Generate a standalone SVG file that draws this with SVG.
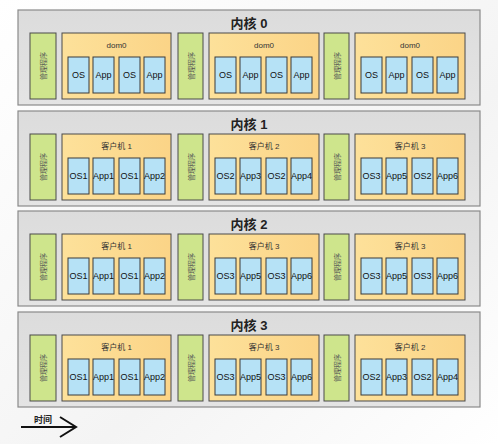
<svg xmlns="http://www.w3.org/2000/svg" width="498" height="444" viewBox="0 0 498 444">
<defs>
<linearGradient id="bg" x1="0" y1="0" x2="1" y2="1"><stop offset="0" stop-color="#ffffff"/><stop offset="0.6" stop-color="#f4f4f4"/><stop offset="1" stop-color="#ffffff"/></linearGradient>
<linearGradient id="coreg" x1="0" y1="0" x2="0" y2="1"><stop offset="0" stop-color="#dcdcdc"/><stop offset="1" stop-color="#e4e4e4"/></linearGradient>
<linearGradient id="guestg" x1="0" y1="0" x2="1" y2="0"><stop offset="0" stop-color="#fde19a"/><stop offset="1" stop-color="#fbd487"/></linearGradient>
<style>
.core{fill:url(#coreg);stroke:#8a8a8a;stroke-width:1.2}
.mgr{fill:#cee58c;stroke:#4a4a4a;stroke-width:1}
.guest{fill:url(#guestg);stroke:#4a4a4a;stroke-width:1}
.vm{fill:#b6e2f6;stroke:#3a3a3a;stroke-width:1}
text{font-family:"Liberation Sans","Noto Sans CJK SC",sans-serif;text-anchor:middle}
.title{font-size:13px;font-weight:bold;fill:#222}
.glab{font-size:8px;fill:#333}
.vt{font-size:9px;fill:#111}
.mt{font-size:7px;fill:#555}
</style>
</defs>
<rect width="498" height="444" fill="url(#bg)"/>

<g id="core0">
<rect class="core" x="18" y="10" width="462" height="95"/>
<text class="title" x="249" y="28">内核 0</text>
<g id="c0m1"><rect class="mgr" x="30" y="33" width="26" height="66"/><text class="mt" transform="translate(46,66) rotate(-90)">管理程序</text></g>
<g id="c0g1"><rect class="guest" x="62" y="33" width="109" height="66"/><text class="glab" x="116.5" y="48">dom0</text>
<rect class="vm" x="68" y="57" width="21" height="36"/><text class="vt" x="78.5" y="78">OS</text>
<rect class="vm" x="93" y="57" width="21" height="36"/><text class="vt" x="103.5" y="78">App</text>
<rect class="vm" x="119" y="57" width="21" height="36"/><text class="vt" x="129.5" y="78">OS</text>
<rect class="vm" x="144" y="57" width="21" height="36"/><text class="vt" x="154.5" y="78">App</text></g>
<g id="c0m2"><rect class="mgr" x="178" y="33" width="25" height="66"/><text class="mt" transform="translate(193.5,66) rotate(-90)">管理程序</text></g>
<g id="c0g2"><rect class="guest" x="209" y="33" width="110" height="66"/><text class="glab" x="264" y="48">dom0</text>
<rect class="vm" x="215" y="57" width="21" height="36"/><text class="vt" x="225.5" y="78">OS</text>
<rect class="vm" x="240" y="57" width="21" height="36"/><text class="vt" x="250.5" y="78">App</text>
<rect class="vm" x="266" y="57" width="21" height="36"/><text class="vt" x="276.5" y="78">OS</text>
<rect class="vm" x="291" y="57" width="21" height="36"/><text class="vt" x="301.5" y="78">App</text></g>
<g id="c0m3"><rect class="mgr" x="324" y="33" width="25" height="66"/><text class="mt" transform="translate(339.5,66) rotate(-90)">管理程序</text></g>
<g id="c0g3"><rect class="guest" x="355" y="33" width="110" height="66"/><text class="glab" x="410" y="48">dom0</text>
<rect class="vm" x="361" y="57" width="21" height="36"/><text class="vt" x="371.5" y="78">OS</text>
<rect class="vm" x="386" y="57" width="21" height="36"/><text class="vt" x="396.5" y="78">App</text>
<rect class="vm" x="412" y="57" width="21" height="36"/><text class="vt" x="422.5" y="78">OS</text>
<rect class="vm" x="437" y="57" width="21" height="36"/><text class="vt" x="447.5" y="78">App</text></g>
</g>

<g id="core1" transform="translate(0,101)">
<rect class="core" x="18" y="10" width="462" height="95"/>
<text class="title" x="249" y="28">内核 1</text>
<g id="c1m1"><rect class="mgr" x="30" y="33" width="26" height="66"/><text class="mt" transform="translate(46,66) rotate(-90)">管理程序</text></g>
<g id="c1g1"><rect class="guest" x="62" y="33" width="109" height="66"/><text class="glab" x="116.5" y="48">客户机 1</text>
<rect class="vm" x="68" y="57" width="21" height="36"/><text class="vt" x="78.5" y="78">OS1</text>
<rect class="vm" x="93" y="57" width="21" height="36"/><text class="vt" x="103.5" y="78">App1</text>
<rect class="vm" x="119" y="57" width="21" height="36"/><text class="vt" x="129.5" y="78">OS1</text>
<rect class="vm" x="144" y="57" width="21" height="36"/><text class="vt" x="154.5" y="78">App2</text></g>
<g id="c1m2"><rect class="mgr" x="178" y="33" width="25" height="66"/><text class="mt" transform="translate(193.5,66) rotate(-90)">管理程序</text></g>
<g id="c1g2"><rect class="guest" x="209" y="33" width="110" height="66"/><text class="glab" x="264" y="48">客户机 2</text>
<rect class="vm" x="215" y="57" width="21" height="36"/><text class="vt" x="225.5" y="78">OS2</text>
<rect class="vm" x="240" y="57" width="21" height="36"/><text class="vt" x="250.5" y="78">App3</text>
<rect class="vm" x="266" y="57" width="21" height="36"/><text class="vt" x="276.5" y="78">OS2</text>
<rect class="vm" x="291" y="57" width="21" height="36"/><text class="vt" x="301.5" y="78">App4</text></g>
<g id="c1m3"><rect class="mgr" x="324" y="33" width="25" height="66"/><text class="mt" transform="translate(339.5,66) rotate(-90)">管理程序</text></g>
<g id="c1g3"><rect class="guest" x="355" y="33" width="110" height="66"/><text class="glab" x="410" y="48">客户机 3</text>
<rect class="vm" x="361" y="57" width="21" height="36"/><text class="vt" x="371.5" y="78">OS3</text>
<rect class="vm" x="386" y="57" width="21" height="36"/><text class="vt" x="396.5" y="78">App5</text>
<rect class="vm" x="412" y="57" width="21" height="36"/><text class="vt" x="422.5" y="78">OS2</text>
<rect class="vm" x="437" y="57" width="21" height="36"/><text class="vt" x="447.5" y="78">App6</text></g>
</g>

<g id="core2" transform="translate(0,201)">
<rect class="core" x="18" y="10" width="462" height="95"/>
<text class="title" x="249" y="28">内核 2</text>
<g id="c2m1"><rect class="mgr" x="30" y="33" width="26" height="66"/><text class="mt" transform="translate(46,66) rotate(-90)">管理程序</text></g>
<g id="c2g1"><rect class="guest" x="62" y="33" width="109" height="66"/><text class="glab" x="116.5" y="48">客户机 1</text>
<rect class="vm" x="68" y="57" width="21" height="36"/><text class="vt" x="78.5" y="78">OS1</text>
<rect class="vm" x="93" y="57" width="21" height="36"/><text class="vt" x="103.5" y="78">App1</text>
<rect class="vm" x="119" y="57" width="21" height="36"/><text class="vt" x="129.5" y="78">OS1</text>
<rect class="vm" x="144" y="57" width="21" height="36"/><text class="vt" x="154.5" y="78">App2</text></g>
<g id="c2m2"><rect class="mgr" x="178" y="33" width="25" height="66"/><text class="mt" transform="translate(193.5,66) rotate(-90)">管理程序</text></g>
<g id="c2g2"><rect class="guest" x="209" y="33" width="110" height="66"/><text class="glab" x="264" y="48">客户机 3</text>
<rect class="vm" x="215" y="57" width="21" height="36"/><text class="vt" x="225.5" y="78">OS3</text>
<rect class="vm" x="240" y="57" width="21" height="36"/><text class="vt" x="250.5" y="78">App5</text>
<rect class="vm" x="266" y="57" width="21" height="36"/><text class="vt" x="276.5" y="78">OS3</text>
<rect class="vm" x="291" y="57" width="21" height="36"/><text class="vt" x="301.5" y="78">App6</text></g>
<g id="c2m3"><rect class="mgr" x="324" y="33" width="25" height="66"/><text class="mt" transform="translate(339.5,66) rotate(-90)">管理程序</text></g>
<g id="c2g3"><rect class="guest" x="355" y="33" width="110" height="66"/><text class="glab" x="410" y="48">客户机 3</text>
<rect class="vm" x="361" y="57" width="21" height="36"/><text class="vt" x="371.5" y="78">OS3</text>
<rect class="vm" x="386" y="57" width="21" height="36"/><text class="vt" x="396.5" y="78">App5</text>
<rect class="vm" x="412" y="57" width="21" height="36"/><text class="vt" x="422.5" y="78">OS3</text>
<rect class="vm" x="437" y="57" width="21" height="36"/><text class="vt" x="447.5" y="78">App6</text></g>
</g>

<g id="core3" transform="translate(0,302)">
<rect class="core" x="18" y="10" width="462" height="95"/>
<text class="title" x="249" y="28">内核 3</text>
<g id="c3m1"><rect class="mgr" x="30" y="33" width="26" height="66"/><text class="mt" transform="translate(46,66) rotate(-90)">管理程序</text></g>
<g id="c3g1"><rect class="guest" x="62" y="33" width="109" height="66"/><text class="glab" x="116.5" y="48">客户机 1</text>
<rect class="vm" x="68" y="57" width="21" height="36"/><text class="vt" x="78.5" y="78">OS1</text>
<rect class="vm" x="93" y="57" width="21" height="36"/><text class="vt" x="103.5" y="78">App1</text>
<rect class="vm" x="119" y="57" width="21" height="36"/><text class="vt" x="129.5" y="78">OS1</text>
<rect class="vm" x="144" y="57" width="21" height="36"/><text class="vt" x="154.5" y="78">App2</text></g>
<g id="c3m2"><rect class="mgr" x="178" y="33" width="25" height="66"/><text class="mt" transform="translate(193.5,66) rotate(-90)">管理程序</text></g>
<g id="c3g2"><rect class="guest" x="209" y="33" width="110" height="66"/><text class="glab" x="264" y="48">客户机 3</text>
<rect class="vm" x="215" y="57" width="21" height="36"/><text class="vt" x="225.5" y="78">OS3</text>
<rect class="vm" x="240" y="57" width="21" height="36"/><text class="vt" x="250.5" y="78">App5</text>
<rect class="vm" x="266" y="57" width="21" height="36"/><text class="vt" x="276.5" y="78">OS3</text>
<rect class="vm" x="291" y="57" width="21" height="36"/><text class="vt" x="301.5" y="78">App6</text></g>
<g id="c3m3"><rect class="mgr" x="324" y="33" width="25" height="66"/><text class="mt" transform="translate(339.5,66) rotate(-90)">管理程序</text></g>
<g id="c3g3"><rect class="guest" x="355" y="33" width="110" height="66"/><text class="glab" x="410" y="48">客户机 2</text>
<rect class="vm" x="361" y="57" width="21" height="36"/><text class="vt" x="371.5" y="78">OS2</text>
<rect class="vm" x="386" y="57" width="21" height="36"/><text class="vt" x="396.5" y="78">App3</text>
<rect class="vm" x="412" y="57" width="21" height="36"/><text class="vt" x="422.5" y="78">OS2</text>
<rect class="vm" x="437" y="57" width="21" height="36"/><text class="vt" x="447.5" y="78">App4</text></g>
</g>

<g id="connectors">
<text x="43" y="423" style="font-size:9px;font-weight:bold;fill:#222">时间</text>
<line x1="21" y1="427" x2="75" y2="427" stroke="#111" stroke-width="2"/>
<polyline points="60,417 76,427 60,437" fill="none" stroke="#111" stroke-width="2"/>
</g>
</svg>
